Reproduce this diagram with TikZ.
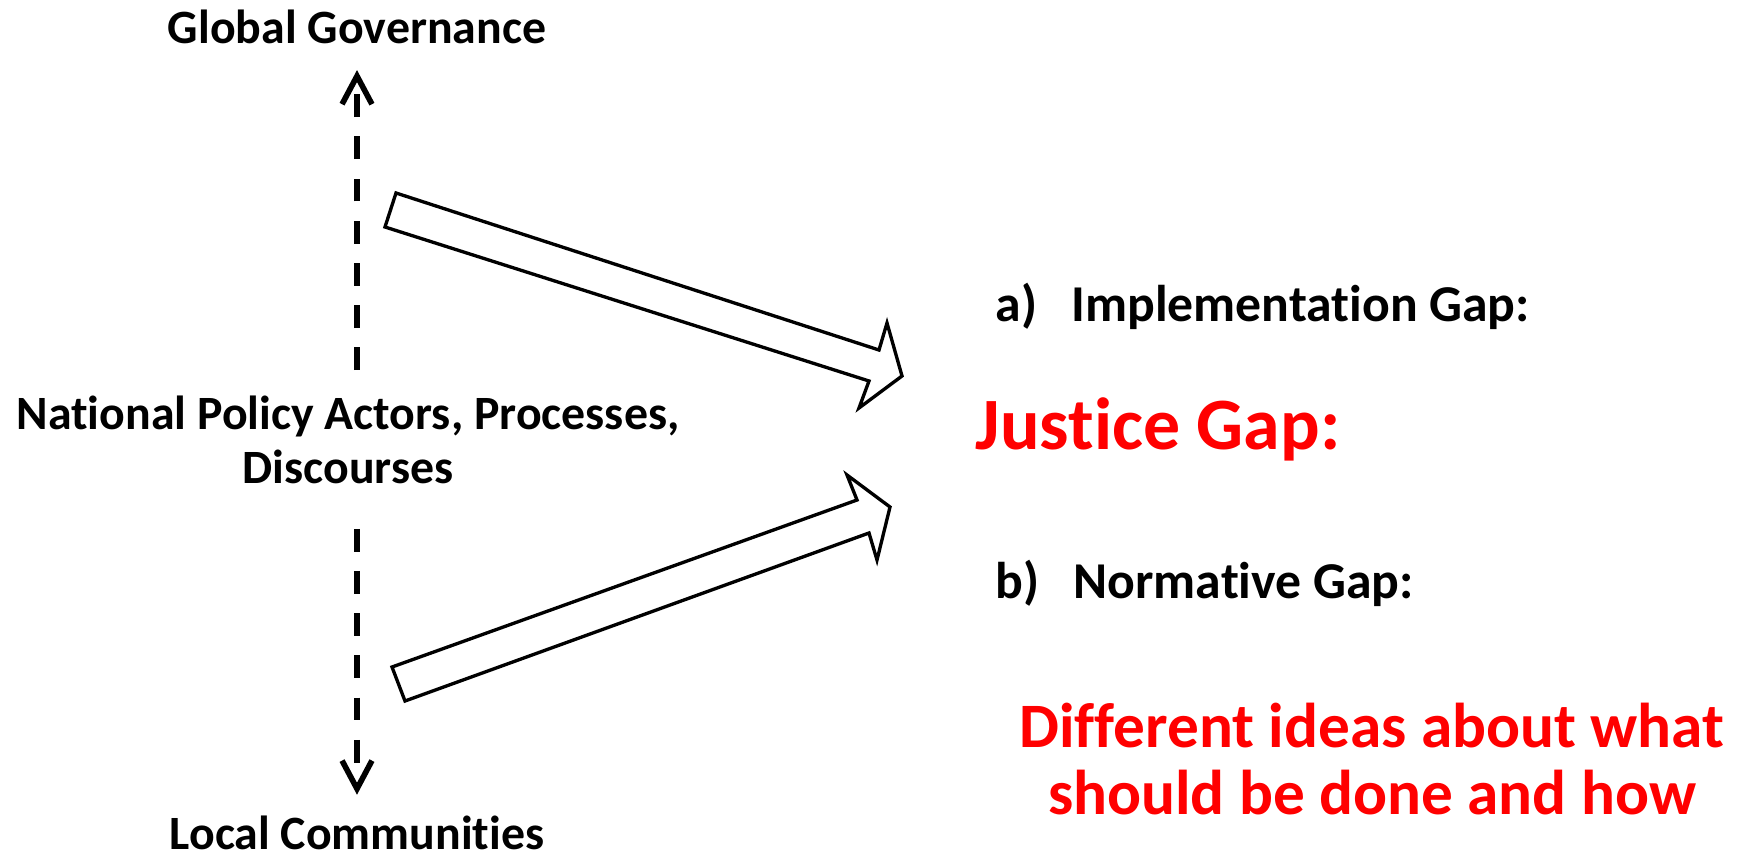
\documentclass[tikz,border=0pt]{standalone}
\usepackage{fontspec}
\setmainfont{Carlito}[Ligatures={NoCommon,NoContextual}]
\usetikzlibrary{arrows.meta}

\begin{document}
\begin{tikzpicture}[x=0.01cm,y=-0.01cm,
	lbl/.style={font=\fontsize{13.6}{15.4}\selectfont\bfseries,inner sep=0pt},
	gaplbl/.style={font=\fontsize{14.7}{17}\selectfont\bfseries,inner sep=0pt,anchor=base west},
	redlbl/.style={font=\fontsize{18}{19.3}\selectfont\bfseries,text=red,inner sep=0pt},
	levelarrow/.style={line width=1.6pt,dash pattern=on 6.5pt off 5.5pt,
		-{Straight Barb[length=8pt,width=8.5pt,line width=1.6pt]}},
	gaparrow/.style={draw,line width=0.95pt,fill=white,line join=miter}]
	\useasboundingbox (0,0) rectangle (1737,855);

	% levels on the left
	\node[lbl,anchor=base] (global) at (357,44) {Global Governance};
	\node[lbl,align=center] (national) at (348,440) {National Policy Actors, Processes,\\Discourses};
	\node[lbl,anchor=base] (local) at (357,849) {Local Communities};

	\draw[levelarrow,shorten <=0.25cm,shorten >=0.25cm] (national.north -| global.south) -- (global.south);
	\draw[levelarrow,shorten <=0.44cm,shorten >=0.2cm] (national.south -| local.north) -- (local.north);

	% gaps on the right
	\node[gaplbl] (implgap) at (995,321) {a)\hspace{9.7pt}Implementation Gap:};
	\node[redlbl,font=\fontsize{21}{24}\selectfont\bfseries,anchor=base west] (justice) at (975,449) {Justice Gap:};
	\node[gaplbl] (normgap) at (995,598) {b)\hspace{9.7pt}Normative Gap:};
	\node[redlbl,align=center] (ideas) at (1372,759) {Different ideas about what\\should be done and how};

	% block arrows
	\draw[gaparrow] (396,193) -- (879,350) -- (887,323) -- (902,376) -- (859,408) -- (869,381) -- (385,227) -- cycle;
	\draw[gaparrow] (392,667) -- (857,500) -- (847,475) -- (890,507) -- (877,560) -- (869,533) -- (405,701) -- cycle;
\end{tikzpicture}
\end{document}
